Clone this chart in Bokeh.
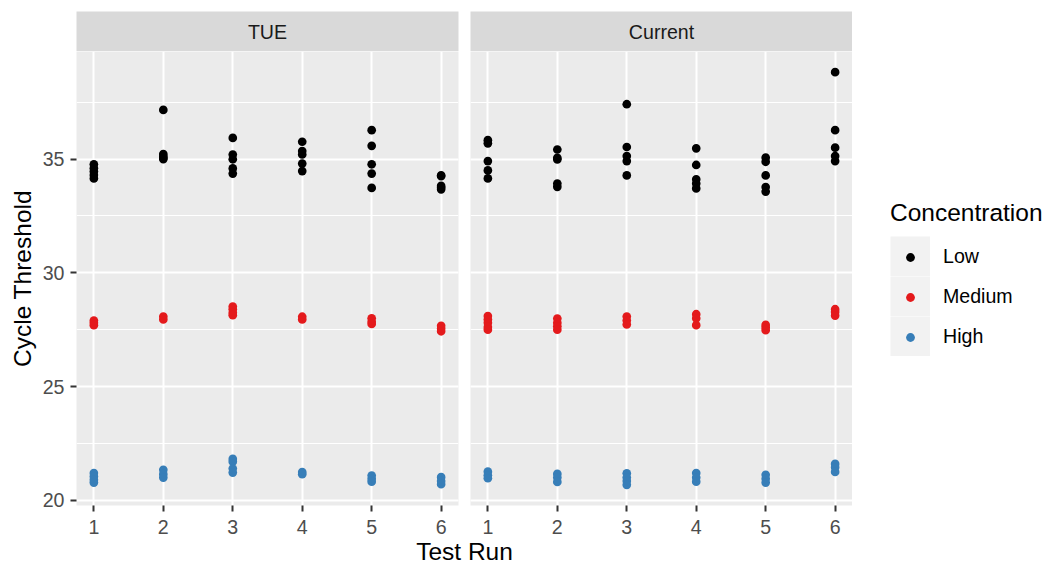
import numpy as np
from bokeh.plotting import figure
from bokeh.layouts import row, column
from bokeh.models import (Range1d, FixedTicker, SingleIntervalTicker, Label, Legend,
                          LegendItem, LinearAxis, Grid)
from bokeh.embed import file_html
from bokeh.resources import INLINE

# ---------------- data ----------------
facets = ["TUE", "Current"]
levels = ["Low", "Medium", "High"]
level_colors = ["#000000", "#E41A1C", "#377EB8"]
runs = [1, 2, 3, 4, 5, 6]
y_ticks_interval = 5

# Cycle threshold values per run (index 0 -> run 1 ...)
tue_low = [
    [34.77, 34.60, 34.45, 34.30, 34.15],
    [37.16, 35.22, 35.12, 35.05, 35.00],
    [35.93, 35.20, 34.99, 34.59, 34.36],
    [35.76, 35.35, 35.20, 34.80, 34.47],
    [36.27, 35.58, 34.77, 34.36, 33.73],
    [34.28, 34.25, 33.82, 33.75, 33.67],
]
tue_medium = [
    [27.90, 27.80, 27.70],
    [28.08, 27.95],
    [28.52, 28.40, 28.25, 28.14],
    [28.07, 27.95],
    [28.00, 27.85, 27.75],
    [27.67, 27.55, 27.43],
]
tue_high = [
    [21.20, 21.05, 20.90, 20.78],
    [21.34, 21.15, 21.00],
    [21.82, 21.70, 21.40, 21.22],
    [21.24, 21.15],
    [21.09, 20.95, 20.82],
    [21.02, 20.85, 20.71],
]
current_low = [
    [35.83, 35.69, 34.91, 34.50, 34.15],
    [35.42, 35.05, 34.98, 33.92, 33.78],
    [37.41, 35.53, 35.13, 34.91, 34.28],
    [35.47, 34.74, 34.11, 33.92, 33.71],
    [35.06, 34.88, 34.28, 33.77, 33.57],
    [38.82, 36.27, 35.50, 35.13, 34.91],
]
current_medium = [
    [28.10, 27.95, 27.80, 27.62, 27.50],
    [27.99, 27.80, 27.65, 27.50],
    [28.08, 27.90, 27.73],
    [28.18, 28.00, 27.70],
    [27.71, 27.60, 27.48],
    [28.40, 28.28, 28.12],
]
current_high = [
    [21.26, 21.10, 20.97],
    [21.16, 21.00, 20.81],
    [21.19, 21.00, 20.85, 20.68],
    [21.20, 21.00, 20.82],
    [21.12, 20.95, 20.78],
    [21.60, 21.45, 21.25],
]

panel_data = {
    "TUE": [tue_low, tue_medium, tue_high],
    "Current": [current_low, current_medium, current_high],
}

# ---------------- styling ----------------
FONT = "Liberation Sans"
PANEL_BG = "#EBEBEB"
STRIP_BG = "#D9D9D9"
KEY_BG = "#F2F2F2"
TICK_TXT = "#4D4D4D"
TICK_LINE = "#333333"
SMALL = "19.6px"
LARGE = "24.5px"
PT_SIZE = 8.7

FRAME_W = 382
FRAME_H = 454
LEFT = 76
GAP = 12
RIGHT = 199
STRIP_TOP = 11
STRIP_H = STRIP_TOP + 40
PANEL_BOTTOM = 36
PANEL_H = FRAME_H + PANEL_BOTTOM
TOTAL_H = 562
BOTTOM_H = TOTAL_H - STRIP_H - PANEL_H
LEG_H = STRIP_H + PANEL_H


def flatten(series):
    xs, ys = [], []
    for r, vals in zip(runs, series):
        for v in vals:
            xs.append(r)
            ys.append(v)
    return xs, ys


all_y = [v for f in facets for s in panel_data[f] for run_vals in s for v in run_vals]
ymin, ymax = min(all_y), max(all_y)
ypad = 0.05 * (ymax - ymin)
xpad = 0.05 * (max(runs) - min(runs))


def blank_fig(width, height, **kw):
    opts = dict(width=width, height=height, x_range=Range1d(0, 1), y_range=Range1d(0, 1),
                x_axis_type=None, y_axis_type=None, output_backend="svg",
                toolbar_location=None, min_border_left=0, min_border_right=0,
                min_border_top=0, min_border_bottom=0,
                background_fill_color="white", border_fill_color="white",
                outline_line_color=None)
    opts.update(kw)
    return figure(**opts)


def make_panel(name, show_y, width, mbl, mbr):
    p = figure(width=width, height=PANEL_H,
               x_range=Range1d(min(runs) - xpad, max(runs) + xpad),
               y_range=Range1d(ymin - ypad, ymax + ypad),
               x_axis_type=None, y_axis_type=None,
               output_backend="svg", toolbar_location=None,
               min_border_left=mbl, min_border_right=mbr,
               min_border_top=0, min_border_bottom=PANEL_BOTTOM,
               background_fill_color=PANEL_BG, border_fill_color="white",
               outline_line_color=None)
    xt = FixedTicker(ticks=runs)
    yt = SingleIntervalTicker(interval=y_ticks_interval, num_minor_ticks=2)
    xa = LinearAxis(ticker=xt)
    axes = [xa]
    p.add_layout(xa, "below")
    if show_y:
        ya = LinearAxis(ticker=yt, axis_label="Cycle Threshold")
        ya.axis_label_text_font = FONT
        ya.axis_label_text_font_size = LARGE
        ya.axis_label_text_font_style = "normal"
        ya.axis_label_text_color = "black"
        ya.axis_label_standoff = 4
        ya.major_label_standoff = 6
        axes.append(ya)
        p.add_layout(ya, "left")
    for a in axes:
        a.axis_line_color = None
        a.major_tick_line_color = TICK_LINE
        a.major_tick_line_width = 2
        a.major_tick_in = 0
        a.major_tick_out = 6
        a.minor_tick_line_color = None
        a.major_label_text_font = FONT
        a.major_label_text_font_size = SMALL
        a.major_label_text_color = TICK_TXT
    xa.major_label_standoff = 8
    p.add_layout(Grid(dimension=0, ticker=xt, grid_line_color="white", grid_line_width=2))
    p.add_layout(Grid(dimension=1, ticker=yt, grid_line_color="white", grid_line_width=2,
                      minor_grid_line_color="white", minor_grid_line_width=1))
    for lvl, col, series in zip(levels, level_colors, panel_data[name]):
        xs, ys = flatten(series)
        p.scatter(x=xs, y=ys, size=PT_SIZE, fill_color=col, line_color=None)
    return p


def make_strip(name, width, mbl, mbr):
    s = blank_fig(width, STRIP_H, min_border_left=mbl, min_border_right=mbr,
                  min_border_top=STRIP_TOP, background_fill_color=STRIP_BG)
    s.add_layout(Label(x=0.5, y=0.5, text=name, text_align="center", text_baseline="middle",
                       text_font=FONT, text_font_size=SMALL, text_color="#1A1A1A"))
    return s


W1 = LEFT + FRAME_W + GAP
W2 = FRAME_W

p1 = make_panel(facets[0], True, W1, LEFT, GAP)
p2 = make_panel(facets[1], False, W2, 0, 0)
s1 = make_strip(facets[0], W1, LEFT, GAP)
s2 = make_strip(facets[1], W2, 0, 0)

# legend figure: key glyphs take their colours from the level colours
# (renderers hold a single NaN point, so nothing is drawn inside the frame)
nan = np.array([np.nan])
lg = blank_fig(RIGHT, LEG_H)

# grey key backgrounds (a separate legend with 40x40 keys and no gaps)
band = lg.line(x=nan, y=nan, line_color=KEY_BG, line_width=40)
key_bg = Legend(items=[LegendItem(label="", renderers=[band]) for _ in levels],
                location=(38, LEG_H - 356), glyph_width=40, glyph_height=40,
                label_height=0, label_width=0, label_standoff=0, spacing=0,
                padding=0, margin=0, background_fill_alpha=0, border_line_color=None,
                label_text_font_size="1px")
lg.add_layout(key_bg)

items = []
for lvl, col in zip(levels, level_colors):
    r = lg.scatter(x=nan, y=nan, size=PT_SIZE, fill_color=col, line_color=None)
    items.append(LegendItem(label=lvl, renderers=[r]))
legend = Legend(items=items, location=(38, LEG_H - 348), title="Concentration",
                title_text_font=FONT, title_text_font_size=LARGE, title_text_font_style="normal",
                title_text_color="black", title_standoff=18,
                label_text_font=FONT, label_text_font_size=SMALL, label_text_color="black",
                glyph_width=40, glyph_height=22, label_height=22, label_standoff=13,
                spacing=17, padding=0, margin=0,
                background_fill_alpha=0, border_line_color=None)
lg.add_layout(legend)

# shared x-axis title
b = blank_fig(LEFT + FRAME_W + GAP + FRAME_W + RIGHT, BOTTOM_H,
              min_border_left=LEFT, min_border_right=RIGHT)
title_mid_from_bottom = 11.0
b.add_layout(Label(x=0.5, y=title_mid_from_bottom / BOTTOM_H, text="Test Run",
                   text_align="center", text_baseline="middle", text_font=FONT,
                   text_font_size=LARGE, text_color="black"))

layout = column(row(column(s1, p1), column(s2, p2), lg), b)

open("out.html", "w").write(file_html(layout, INLINE))
